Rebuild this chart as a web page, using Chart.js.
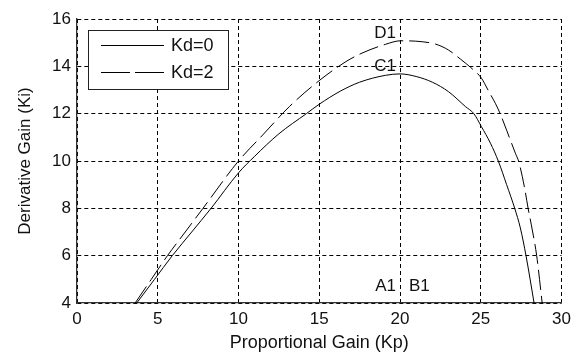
<!DOCTYPE html>
<html>
<head>
<meta charset="utf-8">
<script src="https://cdn.jsdelivr.net/npm/chart.js@4/dist/chart.umd.min.js"></script>
<style>
  html, body { margin: 0; padding: 0; background: #fff; }
  canvas { display: block; }
</style>
</head>
<body>
<canvas id="chart" width="577" height="354"></canvas>
<script>
  // Kd=0 curve (solid)
  const kd0Kp = [3.7, 4.8, 5.9, 7.1, 8.3, 10, 11, 12.5, 14.2, 15, 16.3, 17.5, 19.1, 20, 21, 22, 23, 24.05, 24.57, 25.04, 25.6, 26.1, 26.6, 27.1, 27.45, 27.8, 28.3];
  const kd0Ki = [4, 5, 6, 7, 8, 9.5, 10.2, 11.15, 12.0, 12.4, 12.95, 13.33, 13.62, 13.68, 13.57, 13.33, 12.93, 12.3, 12.0, 11.45, 10.75, 9.97, 9.0, 8.0, 7.17, 6, 4];
  // Kd=2 curve (dashed)
  const kd2Kp = [3.6, 4.6, 5.6, 6.7, 7.8, 10, 11.5, 13.15, 15.04, 16.65, 17.65, 19.1, 20.04, 21.37, 22.2, 23, 23.75, 24.36, 25.04, 25.5, 25.9, 26.2, 26.6, 27.14, 27.35, 27.7, 27.93, 28.13, 28.46, 28.8];
  const kd2Ki = [4, 5, 6, 7, 8, 10, 11.1, 12.3, 13.42, 14.2, 14.56, 14.93, 15.08, 15.04, 14.94, 14.69, 14.3, 13.96, 13.5, 12.93, 12.44, 12.0, 11.3, 10.33, 9.97, 8.9, 8.0, 7.3, 6, 4];

  const seriesNames = ['Kd=0', 'Kd=2'];
  // point labels: text, Kp, Ki, alignment
  const pointLabels = [
    ['D1', 20, 15.42, 'right'],
    ['C1', 20, 14.06, 'right'],
    ['A1', 20, 4.76, 'right'],
    ['B1', 20.55, 4.76, 'left']
  ];

  const toPts = (xs, ys) => xs.map((x, i) => ({ x: x, y: ys[i] }));
  const font = 'Liberation Sans, Arial, sans-serif';

  const overlay = {
    id: 'overlay',
    afterDatasetsDraw(chart) {
      const ctx = chart.ctx, xs = chart.scales.x, ys = chart.scales.y;
      ctx.save();
      ctx.fillStyle = '#111';
      ctx.font = '17px ' + font;
      ctx.textBaseline = 'middle';
      pointLabels.forEach(p => {
        ctx.textAlign = p[3];
        ctx.fillText(p[0], xs.getPixelForValue(p[1]) + (p[3] === 'right' ? -4 : 0), ys.getPixelForValue(p[2]) + 1);
      });
      // legend box
      const bx = 88, by = 30, bw = 140, bh = 59;
      ctx.fillStyle = '#fff';
      ctx.fillRect(bx, by, bw, bh);
      ctx.strokeStyle = '#222';
      ctx.lineWidth = 1;
      ctx.strokeRect(bx + 0.5, by + 0.5, bw, bh);
      const dashes = [[], [29, 5]];
      seriesNames.forEach((name, i) => {
        const ly = by + 15 + i * 27 + 0.5;
        ctx.strokeStyle = '#000';
        ctx.setLineDash(dashes[i]);
        ctx.beginPath();
        ctx.moveTo(101, ly);
        ctx.lineTo(164, ly);
        ctx.stroke();
        ctx.setLineDash([]);
        ctx.fillStyle = '#111';
        ctx.textAlign = 'left';
        ctx.font = '18px ' + font;
        ctx.fillText(name, 171, ly + 1);
      });
      ctx.restore();
    }
  };

  new Chart(document.getElementById('chart'), {
    type: 'scatter',
    data: {
      datasets: [
        { label: seriesNames[0], data: toPts(kd0Kp, kd0Ki), showLine: true, borderColor: '#000', borderWidth: 1, pointRadius: 0, cubicInterpolationMode: 'monotone' },
        { label: seriesNames[1], data: toPts(kd2Kp, kd2Ki), showLine: true, borderColor: '#000', borderWidth: 1, borderDash: [20, 6], pointRadius: 0, cubicInterpolationMode: 'monotone' }
      ]
    },
    options: {
      responsive: false,
      animation: false,
      layout: { padding: { top: 19, right: 13, left: 0, bottom: 0 } },
      plugins: { legend: { display: false }, tooltip: { enabled: false } },
      scales: {
        x: {
          type: 'linear', min: 0, max: 30,
          ticks: { stepSize: 5, color: '#111', font: { family: font, size: 17 }, padding: 6 },
          grid: { color: '#000', lineWidth: 1, drawTicks: false },
          border: { color: '#333', width: 1.3, dash: [4, 3] },
          title: { display: true, text: 'Proportional Gain (Kp)', color: '#111', font: { family: font, size: 18 }, padding: { top: 0, bottom: 0 } },
          afterFit: s => { s.height = 51; }
        },
        y: {
          min: 4, max: 16,
          ticks: { stepSize: 2, color: '#111', font: { family: font, size: 17 }, padding: 6 },
          grid: { color: '#000', lineWidth: 1, drawTicks: false },
          border: { color: '#333', width: 1.3, dash: [4, 3] },
          title: { display: true, text: 'Derivative Gain (Ki)', color: '#111', font: { family: font, size: 17 }, padding: { top: 15, bottom: 0 } },
          afterFit: s => { s.width = 77; }
        }
      }
    },
    plugins: [overlay]
  });
</script>
</body>
</html>
